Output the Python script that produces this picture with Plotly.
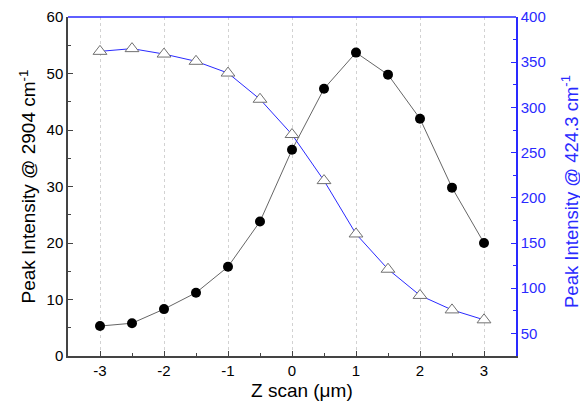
import plotly.graph_objects as go

z_scan = [-3, -2.5, -2, -1.5, -1, -0.5, 0, 0.5, 1, 1.5, 2, 2.5, 3]
peak_2904 = [5.3, 5.8, 8.3, 11.2, 15.8, 23.8, 36.5, 47.3, 53.7, 49.8, 42.0, 29.8, 20.0]
peak_4243 = [362, 365, 359, 351, 338, 309, 270, 219, 160, 121, 92, 76, 65]

x_tickvals = [-3, -2, -1, 0, 1, 2, 3]
x_ticktext = ["-3", "-2", "-1", "0", "1", "2", "3"]
y2_tickvals = [50, 100, 150, 200, 250, 300, 350, 400]

BLUE = "#2a2aff"
DARK = "#444444"
FONT = "Liberation Sans, Arial, sans-serif"

L, R, T, B = 68, 64, 17, 48
PW, PH = 580 - L - R, 404 - T - B

fig = go.Figure()
fig.add_trace(go.Scatter(
    x=z_scan, y=peak_4243, yaxis="y2", mode="lines+markers",
    line=dict(color=BLUE, width=1),
    marker=dict(symbol="triangle-up", size=12, color="white",
                line=dict(color="#707070", width=1)),
    showlegend=False))
fig.add_trace(go.Scatter(
    x=z_scan, y=peak_2904, mode="lines+markers",
    line=dict(color="#666666", width=1),
    marker=dict(symbol="circle", size=10, color="black"),
    showlegend=False))

fig.update_layout(
    width=580, height=404,
    margin=dict(l=L, r=R, t=T, b=B),
    paper_bgcolor="white", plot_bgcolor="white",
    font=dict(family=FONT, size=15, color="black"),
    xaxis=dict(
        range=[-3.5, 3.5], tickvals=x_tickvals, ticktext=x_ticktext,
        automargin=False,
        showline=True, linecolor=DARK, linewidth=1.5,
        ticks="inside", ticklen=5, tickcolor=DARK,
        minor=dict(ticks="inside", ticklen=3, dtick=0.5, tick0=-3, tickcolor=DARK, showgrid=False),
        showgrid=True, gridcolor="#d2d2d2", griddash="dot", gridwidth=1,
        zeroline=False,
        tickfont=dict(size=15),
    ),
    yaxis=dict(
        range=[0, 60], dtick=10, automargin=False,
        showline=True, linecolor=DARK, linewidth=1.5,
        ticks="inside", ticklen=5, tickcolor=DARK,
        minor=dict(ticks="inside", ticklen=3, dtick=5, tickcolor=DARK),
        showgrid=False, zeroline=False,
        tickfont=dict(size=15),
    ),
    yaxis2=dict(
        range=[25, 400], tickvals=y2_tickvals, automargin=False,
        overlaying="y", side="right",
        showline=True, linecolor=BLUE, linewidth=1.5,
        ticks="inside", ticklen=5, tickcolor=BLUE,
        minor=dict(ticks="inside", ticklen=3, dtick=25, tick0=25, tickcolor=BLUE),
        showgrid=False, zeroline=False,
        tickfont=dict(size=15, color=BLUE),
    ),
    shapes=[dict(type="line", xref="paper", yref="paper", x0=0, x1=1, y0=1, y1=1,
                 line=dict(color=BLUE, width=1.5))],
    annotations=[
        dict(text="Z scan (μm)",
             xref="paper", yref="paper", x=(302 - L) / PW, y=-(390 - (T + PH)) / PH,
             xanchor="center", yanchor="middle", showarrow=False,
             font=dict(size=19, color="black")),
        dict(text="Peak Intensity @ 2904 cm<sup>-1</sup>", textangle=-90,
             xref="paper", yref="paper", x=(27 - L) / PW, y=0.5,
             xanchor="center", yanchor="middle", showarrow=False,
             font=dict(size=19, color="black")),
        dict(text="Peak Intensity @ 424.3 cm<sup>-1</sup>", textangle=-90,
             xref="paper", yref="paper", x=(570 - L) / PW, y=(T + PH - 192) / PH,
             xanchor="center", yanchor="middle", showarrow=False,
             font=dict(size=18.5, color=BLUE)),
    ],
)

fig.write_html("out.html",
               config={"displayModeBar": False},
               post_script="document.body.style.margin='0';document.body.style.overflow='hidden';")
